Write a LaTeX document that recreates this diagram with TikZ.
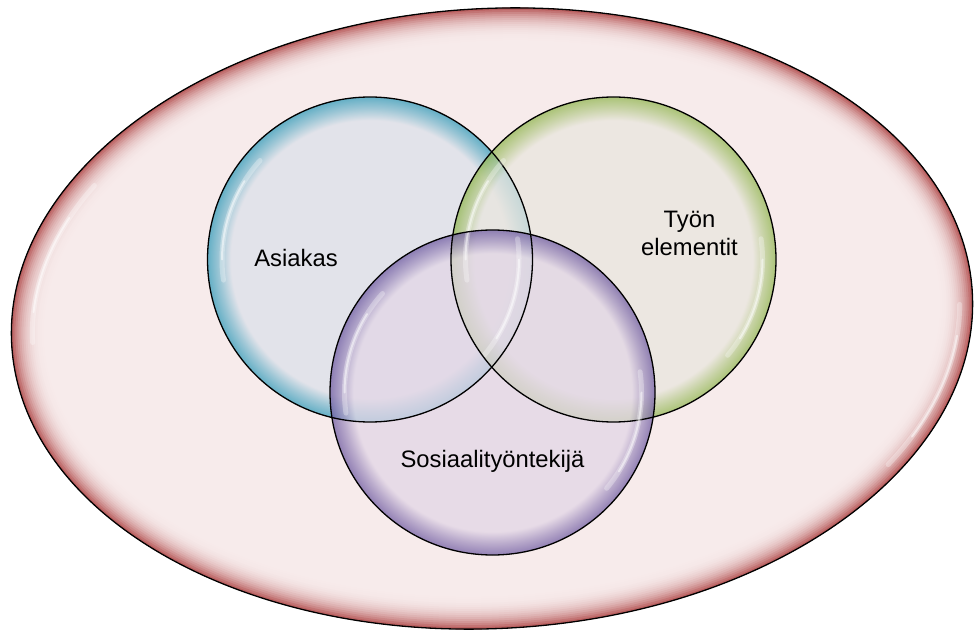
\documentclass[tikz,border=0pt]{standalone}
\usepackage{fontspec}
\setmainfont{Liberation Sans}
\usetikzlibrary{shapes.geometric}

\definecolor{framein}{RGB}{247,235,235}
\definecolor{framerim}{RGB}{176,74,74}
\definecolor{asiakasin}{RGB}{220,225,234}
\definecolor{asiakasrim}{RGB}{50,155,185}
\definecolor{elementin}{RGB}{233,230,222}
\definecolor{elementrim}{RGB}{145,182,80}
\definecolor{tekijain}{RGB}{226,214,230}
\definecolor{tekijarim}{RGB}{112,92,162}

\pgfdeclareradialshading{asiakasshade}{\pgfpoint{0bp}{0bp}}{color(0bp)=(asiakasin); color(21.4bp)=(asiakasin);
  color(23.3bp)=(asiakasrim!55!asiakasin); color(25bp)=(asiakasrim); color(50bp)=(asiakasrim)}
\pgfdeclareradialshading{elementshade}{\pgfpoint{0bp}{0bp}}{color(0bp)=(elementin); color(21.4bp)=(elementin);
  color(23.3bp)=(elementrim!55!elementin); color(25bp)=(elementrim); color(50bp)=(elementrim)}
\pgfdeclareradialshading{tekijashade}{\pgfpoint{0bp}{0bp}}{color(0bp)=(tekijain); color(21.4bp)=(tekijain);
  color(23.3bp)=(tekijarim!55!tekijain); color(25bp)=(tekijarim); color(50bp)=(tekijarim)}

\begin{document}
\begin{tikzpicture}[x=1pt,y=1pt,
    bubble/.style={circle,inner sep=0pt,minimum size=325pt,shade,fill opacity=0.74},
    ring/.style={draw=black,line width=1.3pt},
    glint/.style={draw=white,line cap=round,line width=5pt,opacity=0.3},
    sparkle/.style={draw=white,line cap=round,line width=2pt,opacity=0.5},
    tag/.style={anchor=base,align=center,font=\fontsize{23.8}{28}\selectfont}]

    \fill[white] (0,0) rectangle (974,630);
    \useasboundingbox (0,0) rectangle (974,630);

    % outer frame, rim built from strokes
    \coordinate (frame) at (492,311.5);
    \begin{scope}[shift={(frame)},rotate=3]
        \fill[framein] (0,0) ellipse[x radius=481pt,y radius=310pt];
        \begin{scope}
            \clip (0,0) ellipse[x radius=481pt,y radius=310pt];
            \foreach \s in {34,32,...,2}
            {
                \pgfmathsetmacro\lw{2*\s}
                \pgfmathsetmacro\p{100*(1-\s/36)^2.6}
                \draw[line width=\lw pt,draw=framerim!\p!framein] (0,0) ellipse[x radius=481pt,y radius=310pt];
            }
        \end{scope}
        \draw[glint] (148:460pt and 290pt) arc[start angle=148,end angle=180,x radius=460pt,y radius=290pt];
        \draw[sparkle] (155:460pt and 290pt) arc[start angle=155,end angle=174,x radius=460pt,y radius=290pt];
        \draw[glint] (-34:468pt and 298pt) arc[start angle=-34,end angle=-2,x radius=468pt,y radius=298pt];
        \draw[sparkle] (-28:468pt and 298pt) arc[start angle=-28,end angle=-8,x radius=468pt,y radius=298pt];
        \draw[ring] (0,0) ellipse[x radius=481pt,y radius=310pt];
    \end{scope}

    % the three bubbles
    \node[bubble,shading=asiakasshade] (asiakas) at (370,370.5) {};
    \node[bubble,shading=elementshade] (elementit) at (613.5,370.5) {};
    \node[bubble,shading=tekijashade] (tekija) at (492.5,237.5) {};

    \foreach \n in {asiakas,elementit,tekija}
    {
        \draw[ring] (\n.center) circle[radius=162.5pt];
        \draw[glint] (\n.center) ++(188:148pt) arc[start angle=188,end angle=138,radius=148pt];
        \draw[sparkle] (\n.center) ++(180:148pt) arc[start angle=180,end angle=148,radius=148pt];
        \draw[glint] (\n.center) ++(-40:149pt) arc[start angle=-40,end angle=8,radius=149pt];
        \draw[sparkle] (\n.center) ++(-32:149pt) arc[start angle=-32,end angle=0,radius=149pt];
    }

    % labels
    \node[tag] (asiakas-txt) at ([shift={(-74pt,-7.5pt)}]asiakas.center) {Asiakas};
    \node[tag] (elementit-txt) at ([shift={(76pt,3.5pt)}]elementit.center) {Työn\\elementit};
    \node[tag] (tekija-txt) at ([shift={(0pt,-74.5pt)}]tekija.center) {Sosiaalityöntekijä};
\end{tikzpicture}
\end{document}
